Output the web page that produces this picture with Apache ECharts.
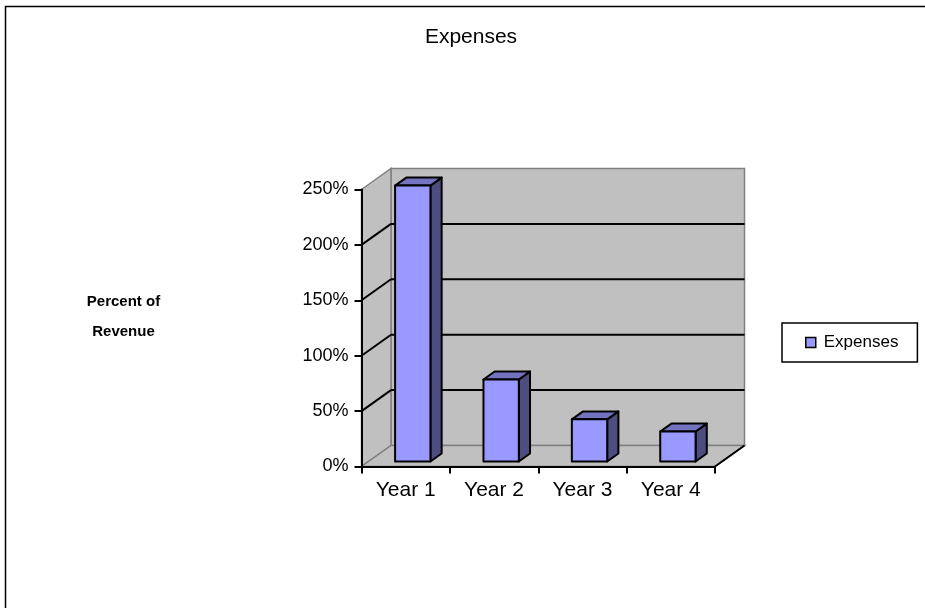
<!DOCTYPE html>
<html>
<head>
<meta charset="utf-8">
<title>Expenses</title>
<script src="https://cdn.jsdelivr.net/npm/echarts@6/dist/echarts.min.js"></script>
<style>
  html, body { margin: 0; padding: 0; background: #fff; }
  #chart { width: 925px; height: 608px; }
</style>
</head>
<body>
<div id="chart"></div>
<script>
// Expenses as a share of revenue, per year
const categories = ['Year 1', 'Year 2', 'Year 3', 'Year 4'];
const expenses = [2.49, 0.74, 0.38, 0.27];
const yTicks = [0, 0.5, 1, 1.5, 2, 2.5];

const FONT = "'Liberation Sans', Arial, sans-serif";
// Oblique depth of the 3D box (pixels toward the back)
const DEPTH = [29.5, -21];
// Bar occupies this slice of the depth
const BAR_FRONT = 0.24, BAR_BACK = 0.62;
const BAR_WIDTH = 0.4; // share of a category slot

const WALL_FILL = '#C0C0C0';
const WALL_EDGE = '#808080';

function pct(v) { return Math.round(v * 100) + '%'; }

function renderWalls(params, api) {
  const cs = params.coordSys;
  const x0 = cs.x, x1 = cs.x + cs.width;
  const yT = cs.y, yB = cs.y + cs.height;
  const dx = DEPTH[0], dy = DEPTH[1];
  const children = [];
  const wallStyle = { fill: WALL_FILL, stroke: WALL_EDGE, lineWidth: 1.5 };
  // back wall
  children.push({ type: 'polygon', shape: { points: [[x0 + dx, yT + dy], [x1 + dx, yT + dy], [x1 + dx, yB + dy], [x0 + dx, yB + dy]] }, style: wallStyle });
  // left side wall
  children.push({ type: 'polygon', shape: { points: [[x0, yT], [x0 + dx, yT + dy], [x0 + dx, yB + dy], [x0, yB]] }, style: wallStyle });
  // floor
  children.push({ type: 'polygon', shape: { points: [[x0, yB], [x1, yB], [x1 + dx, yB + dy], [x0 + dx, yB + dy]] }, style: wallStyle });
  // gridlines across side wall and back wall
  const maxV = yTicks[yTicks.length - 1];
  yTicks.forEach(function (v) {
    if (v <= 0 || v >= maxV) return;
    const y = api.coord([0, v])[1];
    children.push({ type: 'line', shape: { x1: x0, y1: y, x2: x0 + dx, y2: y + dy }, style: { stroke: '#000', lineWidth: 2 } });
    children.push({ type: 'line', shape: { x1: x0 + dx, y1: y + dy, x2: x1 + dx, y2: y + dy }, style: { stroke: '#000', lineWidth: 2 } });
  });
  // right floor edge
  children.push({ type: 'line', shape: { x1: x1, y1: yB, x2: x1 + dx, y2: yB + dy }, style: { stroke: '#000', lineWidth: 2 } });
  return { type: 'group', children: children };
}

function renderBar(params, api) {
  const i = api.value(0);
  const v = api.value(1);
  const cw = api.size([1, 0])[0];
  const c = api.coord([i, 0])[0];
  const y0 = api.coord([i, 0])[1];
  const y1 = api.coord([i, v])[1];
  const fx = BAR_FRONT * DEPTH[0], fy = BAR_FRONT * DEPTH[1];
  const ddx = (BAR_BACK - BAR_FRONT) * DEPTH[0], ddy = (BAR_BACK - BAR_FRONT) * DEPTH[1];
  const bw = cw * BAR_WIDTH;
  const xL = c - bw / 2 + fx, xR = c + bw / 2 + fx;
  const yB = y0 + fy, yT = y1 + fy;
  const edge = { stroke: '#000', lineWidth: 2, lineJoin: 'round' };
  return {
    type: 'group',
    children: [
      { type: 'polygon', shape: { points: [[xR, yB], [xR + ddx, yB + ddy], [xR + ddx, yT + ddy], [xR, yT]] },
        style: Object.assign({ fill: '#4D4D80' }, edge) },
      { type: 'polygon', shape: { points: [[xL, yT], [xR, yT], [xR + ddx, yT + ddy], [xL + ddx, yT + ddy]] },
        style: Object.assign({ fill: '#7373BF' }, edge) },
      { type: 'rect', shape: { x: xL, y: yT, width: bw, height: yB - yT },
        style: Object.assign({ fill: '#9999FF' }, edge) }
    ]
  };
}

const chart = echarts.init(document.getElementById('chart'), null, { renderer: 'canvas' });

chart.setOption({
  animation: false,
  backgroundColor: '#fff',
  textStyle: { fontFamily: FONT },
  title: {
    text: 'Expenses',
    left: 471,
    top: 27,
    padding: 0,
    textAlign: 'center',
    textStyle: { fontFamily: FONT, fontSize: 21, fontWeight: 'normal', color: '#000' }
  },
  legend: {
    data: ['Expenses'],
    left: 782,
    top: 323,
    orient: 'vertical',
    padding: [11, 19, 11, 23],
    borderColor: '#000',
    borderWidth: 1.5,
    itemWidth: 10,
    itemHeight: 10,
    itemGap: 0,
    icon: 'rect',
    itemStyle: { color: '#9999FF', borderColor: '#000', borderWidth: 1.5 },
    textStyle: { fontFamily: FONT, fontSize: 17, color: '#000', padding: [0, 0, 0, 3] },
    selectedMode: false
  },
  graphic: [
    { type: 'rect', z: 100, silent: true,
      shape: { x: 5.5, y: 6.5, width: 940, height: 640 },
      style: { fill: null, stroke: '#000', lineWidth: 1.5 } }
  ],
  grid: { left: 361.5, top: 189.5, width: 353.5, height: 277, containLabel: false },
  xAxis: {
    type: 'category',
    data: categories,
    boundaryGap: true,
    z: 10,
    axisLine: { lineStyle: { color: '#000', width: 2 } },
    axisTick: { show: true, alignWithLabel: false, length: 7, lineStyle: { color: '#000', width: 2 } },
    axisLabel: { margin: 13, fontSize: 21, color: '#000', fontFamily: FONT },
    splitLine: { show: false }
  },
  yAxis: {
    type: 'value',
    min: 0,
    max: 2.5,
    interval: 0.5,
    z: 10,
    name: 'Percent of\nRevenue\n{gap| }',
    nameLocation: 'middle',
    nameRotate: 0,
    nameGap: 238,
    nameTextStyle: {
      fontFamily: FONT, fontSize: 15, fontWeight: 'bold', color: '#000',
      align: 'center', verticalAlign: 'middle', lineHeight: 30,
      rich: { gap: { fontSize: 10, lineHeight: 22 } }
    },
    axisLine: { show: true, lineStyle: { color: '#000', width: 2 } },
    axisTick: { show: true, length: 7, lineStyle: { color: '#000', width: 2 } },
    axisLabel: { margin: 13, fontSize: 18, color: '#000', fontFamily: FONT, formatter: pct, padding: [0, 0, 4, 0] },
    splitLine: { show: false }
  },
  series: [
    {
      name: 'walls',
      type: 'custom',
      z: 1,
      silent: true,
      renderItem: renderWalls,
      data: [[0, 0]]
    },
    {
      name: 'Expenses',
      type: 'custom',
      z: 3,
      itemStyle: { color: '#9999FF', borderColor: '#000', borderWidth: 1.5 },
      renderItem: renderBar,
      encode: { x: 0, y: 1 },
      data: expenses.map(function (v, i) { return [i, v]; })
    }
  ]
});
</script>
</body>
</html>
